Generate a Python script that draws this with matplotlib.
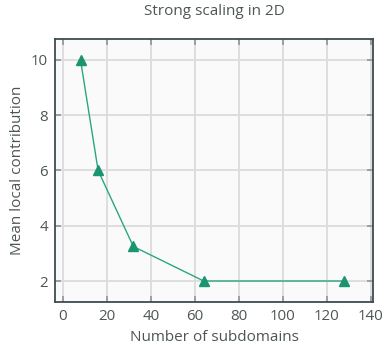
import matplotlib
matplotlib.use("Agg")
import matplotlib.pyplot as plt

subdomains = [8, 16, 32, 64, 128]
mean_local = [10, 6, 3.25, 2, 2]
xticks = [0, 20, 40, 60, 80, 100, 120, 140]
yticks = [2, 4, 6, 8, 10]

plt.rcParams['font.family'] = ['Open Sans', 'DejaVu Sans']
txt = '#4d5556'
fig = plt.figure(figsize=(3.86, 3.45), dpi=100)
ax = fig.add_axes([0.1425, 0.1246, 0.8235, 0.7624])
ax.set_facecolor('#fafafa')
ax.plot(subdomains, mean_local, color='#2aa77c', lw=1.0, marker='^', ms=7,
        markerfacecolor='#1b9470', markeredgecolor='#1b9470', zorder=3)
ax.set_xlim(-3.6, 140.9)
ax.set_ylim(1.24, 10.76)
ax.set_xticks(xticks)
ax.set_yticks(yticks)
ax.grid(True, color='#dcdcdc', lw=1.3, zorder=0)
ax.set_axisbelow(True)
ax.tick_params(direction='in', length=4, width=1.3, color='#999999',
               top=True, right=True, labelsize=10.8, labelcolor=txt, pad=5)
for s in ax.spines.values():
    s.set_color('#3e4c50')
    s.set_linewidth(1.3)
ax.set_xlabel('Number of subdomains', fontsize=11, color=txt, labelpad=4)
ax.set_ylabel('Mean local contribution', fontsize=11, color=txt, labelpad=4)
ax.set_title('Strong scaling in 2D', fontsize=11, color=txt, pad=17)
fig.savefig('out.png', dpi=100, facecolor='white')
